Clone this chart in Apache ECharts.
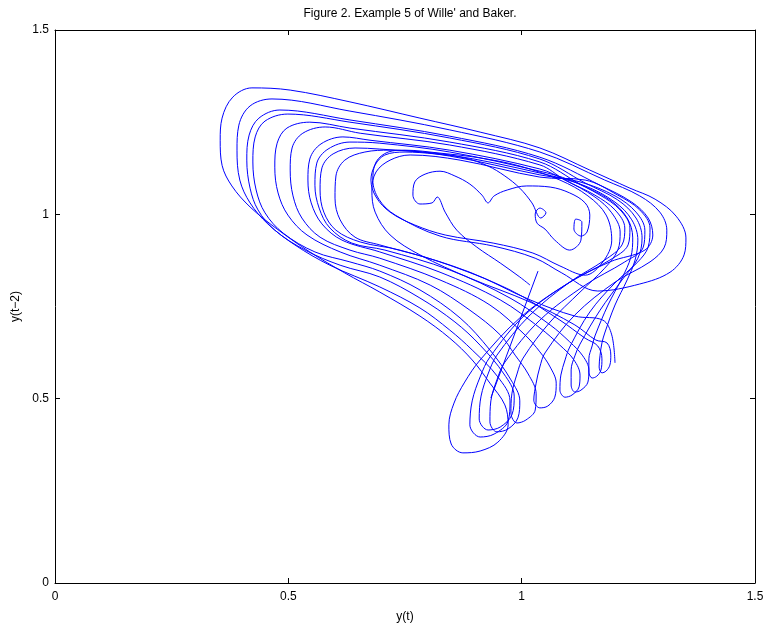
<!DOCTYPE html>
<html><head><meta charset="utf-8">
<script src="https://cdn.jsdelivr.net/npm/echarts@6/dist/echarts.min.js"></script>
<style>html,body{margin:0;padding:0;background:#fff}#c{width:768px;height:628px}</style>
</head><body><div id="c"></div>
<script>
// Tick values
const xTicks = [0, 0.5, 1, 1.5];
const yTicks = [0, 0.5, 1, 1.5];

// Trajectory: (y(t), y(t-2)), in time order, piece by piece
const transient = [[1.018,0.808],[0.996,0.830],[0.954,0.868],[0.904,0.911],[0.861,0.957],[0.836,1.006],[0.819,1.047],[0.808,1.031],[0.782,1.028],[0.767,1.052],[0.771,1.088],[0.793,1.109],[0.825,1.117],[0.857,1.104],[0.889,1.082],[0.915,1.052],[0.928,1.031],[0.941,1.050],[0.969,1.066],[1.011,1.077],[1.061,1.074],[1.103,1.058],[1.136,1.031],[1.146,0.998],[1.140,0.952],[1.127,0.941],[1.112,0.960],[1.116,0.987],[1.129,0.979],[1.127,0.930],[1.103,0.903],[1.071,0.930],[1.050,0.960],[1.033,0.976],[1.029,1.001],[1.039,1.017],[1.052,1.004],[1.041,0.990],[1.022,1.031],[0.996,1.071],[0.964,1.104],[0.928,1.131],[0.878,1.153],[0.814,1.164],[0.750,1.169],[0.707,1.161],[0.686,1.134],[0.677,1.093],[0.688,1.047],[0.718,1.006],[0.771,0.971],[0.836,0.944],[0.939,0.922],[1.024,0.895],[1.082,0.860],[1.136,0.835],[1.174,0.871],[1.193,0.930],[1.181,0.998],[1.142,1.050],[1.082,1.093],[0.996,1.131],[0.911,1.153],[0.825,1.166],[0.750,1.174],[0.714,1.169],[0.688,1.142],[0.681,1.093],[0.694,1.041],[0.729,0.998],[0.825,0.941],[0.939,0.914],[1.029,0.881],[1.086,0.841],[1.163,0.792],[1.253,0.811],[1.318,0.843],[1.348,0.890]];
const cycle1 = [[1.352,0.936],[1.331,0.995],[1.286,1.041],[1.232,1.071],[1.146,1.120],[1.039,1.180],[0.911,1.223],[0.782,1.261],[0.632,1.305],[0.504,1.337],[0.422,1.343],[0.381,1.318],[0.358,1.261],[0.354,1.201],[0.358,1.133],[0.379,1.077],[0.418,1.020],[0.476,0.960],[0.546,0.898],[0.621,0.841],[0.696,0.789],[0.782,0.724],[0.846,0.664],[0.894,0.605],[0.932,0.542],[0.964,0.483],[0.971,0.429],[0.949,0.382],[0.911,0.358],[0.874,0.353],[0.849,0.377],[0.844,0.429],[0.855,0.488],[0.878,0.545],[0.911,0.605]];
const cycle2 = [[0.996,0.719],[1.093,0.808],[1.189,0.871],[1.264,0.903],[1.281,0.944],[1.271,0.990],[1.236,1.033],[1.168,1.079],[1.039,1.155],[0.846,1.212],[0.632,1.256],[0.482,1.283],[0.437,1.261],[0.416,1.215],[0.411,1.147],[0.418,1.071],[0.435,1.012],[0.471,0.957],[0.536,0.903],[0.611,0.862],[0.696,0.830],[0.782,0.773],[0.857,0.708],[0.911,0.645],[0.962,0.567],[0.984,0.507],[0.979,0.456],[0.954,0.423],[0.928,0.415],[0.909,0.445],[0.913,0.507],[0.928,0.567],[0.947,0.618]];
const cycle3 = [[1.018,0.727],[1.103,0.816],[1.178,0.876],[1.215,0.917],[1.221,0.963],[1.200,1.012],[1.157,1.052],[1.093,1.093],[1.039,1.134],[0.846,1.188],[0.654,1.220],[0.579,1.237],[0.531,1.220],[0.508,1.180],[0.504,1.120],[0.510,1.050],[0.529,0.990],[0.568,0.938],[0.632,0.903],[0.696,0.881],[0.825,0.822],[0.932,0.754],[1.007,0.673],[1.039,0.627],[1.061,0.586],[1.074,0.542],[1.071,0.504],[1.056,0.480],[1.039,0.475],[1.026,0.496],[1.031,0.542],[1.039,0.586],[1.050,0.624]];
const cycle4 = [[1.114,0.727],[1.200,0.816],[1.275,0.871],[1.305,0.909],[1.311,0.957],[1.296,1.006],[1.253,1.050],[1.178,1.093],[1.039,1.169],[0.846,1.229],[0.632,1.280],[0.465,1.313],[0.418,1.294],[0.394,1.242],[0.390,1.174],[0.396,1.093],[0.418,1.031],[0.456,0.974],[0.514,0.917],[0.589,0.862],[0.696,0.803],[0.782,0.746],[0.846,0.686],[0.894,0.632],[0.949,0.559],[0.975,0.494],[0.971,0.439],[0.941,0.404],[0.911,0.396],[0.889,0.429],[0.894,0.494],[0.911,0.559],[0.932,0.613]];
const cycle5 = [[1.007,0.727],[1.103,0.816],[1.189,0.876],[1.228,0.917],[1.232,0.963],[1.211,1.012],[1.168,1.052],[1.103,1.093],[1.039,1.117],[0.846,1.169],[0.696,1.193],[0.632,1.196],[0.585,1.177],[0.561,1.139],[0.557,1.079],[0.566,1.017],[0.589,0.963],[0.636,0.922],[0.707,0.903],[0.846,0.849],[0.975,0.773],[1.061,0.700],[1.103,0.654],[1.131,0.616],[1.144,0.578],[1.142,0.545],[1.127,0.523],[1.114,0.518],[1.106,0.537],[1.106,0.578],[1.114,0.616],[1.125,0.648]];
const cycle6 = [[1.168,0.740],[1.215,0.822],[1.249,0.881],[1.258,0.936],[1.245,0.990],[1.206,1.039],[1.136,1.085],[1.039,1.150],[0.846,1.207],[0.632,1.250],[0.499,1.272],[0.450,1.253],[0.429,1.210],[0.424,1.142],[0.431,1.066],[0.450,1.004],[0.489,0.949],[0.557,0.898],[0.632,0.871],[0.696,0.846],[0.782,0.795],[0.868,0.719],[0.932,0.632],[0.977,0.551],[0.996,0.494],[0.992,0.448],[0.971,0.418],[0.947,0.410],[0.932,0.437],[0.934,0.494],[0.947,0.551],[0.964,0.599]];
const cycle7 = [[1.039,0.713],[1.136,0.808],[1.221,0.871],[1.260,0.909],[1.264,0.957],[1.245,1.006],[1.200,1.050],[1.125,1.088],[1.039,1.107],[0.846,1.158],[0.718,1.174],[0.664,1.169],[0.621,1.147],[0.602,1.104],[0.600,1.044],[0.611,0.985],[0.643,0.938],[0.696,0.917],[0.825,0.871],[0.975,0.795],[1.082,0.713],[1.136,0.664],[1.163,0.643],[1.172,0.608],[1.170,0.578],[1.161,0.561],[1.151,0.556],[1.144,0.572],[1.144,0.608],[1.151,0.643],[1.157,0.670]];
const cycle8 = [[1.185,0.754],[1.215,0.827],[1.234,0.884],[1.238,0.936],[1.226,0.990],[1.189,1.039],[1.125,1.082],[1.039,1.142],[0.846,1.196],[0.632,1.234],[0.546,1.250],[0.497,1.234],[0.476,1.193],[0.471,1.128],[0.478,1.058],[0.499,0.998],[0.540,0.944],[0.611,0.898],[0.696,0.862],[0.804,0.808],[0.889,0.740],[0.954,0.673],[0.986,0.618],[1.014,0.567],[1.031,0.513],[1.029,0.469],[1.009,0.442],[0.990,0.434],[0.977,0.461],[0.979,0.513],[0.990,0.567],[1.003,0.610]];
const cycle9 = [[1.061,0.708],[1.125,0.789],[1.178,0.854],[1.206,0.903],[1.211,0.952],[1.193,1.004],[1.157,1.047],[1.093,1.093],[1.039,1.123],[0.846,1.174],[0.675,1.201],[0.617,1.210],[0.570,1.191],[0.546,1.150],[0.542,1.093],[0.549,1.031],[0.572,0.974],[0.615,0.930],[0.696,0.898],[0.825,0.843],[0.954,0.768],[1.039,0.692],[1.082,0.645],[1.112,0.605],[1.125,0.564],[1.123,0.532],[1.108,0.510],[1.093,0.504],[1.082,0.523],[1.084,0.564],[1.093,0.605],[1.103,0.640]];
const cycle10 = [[1.146,0.735],[1.200,0.814],[1.249,0.871],[1.271,0.911],[1.275,0.963],[1.253,1.012],[1.206,1.052],[1.136,1.093],[1.039,1.101],[0.868,1.147],[0.761,1.161],[0.718,1.147],[0.688,1.115],[0.679,1.066],[0.686,1.006],[0.718,0.944],[0.782,0.890],[0.889,0.827],[1.018,0.762],[1.114,0.700],[1.159,0.659],[1.183,0.651],[1.191,0.618],[1.189,0.591],[1.181,0.575],[1.172,0.570],[1.166,0.586],[1.168,0.618],[1.172,0.651],[1.178,0.678]];
const cycle11 = [[1.200,0.754],[1.226,0.822],[1.243,0.876],[1.249,0.930],[1.236,0.985],[1.200,1.033],[1.136,1.077],[1.039,1.112],[0.846,1.161],[0.696,1.177],[0.643,1.180],[0.596,1.164],[0.572,1.126],[0.568,1.066],[0.576,1.006],[0.602,0.957],[0.654,0.925],[0.739,0.903],[0.889,0.843],[1.018,0.768],[1.114,0.724],[1.174,0.713],[1.193,0.673],[1.200,0.597]];
// short separate stroke
const stroke = [[1.035,0.846],[0.934,0.502]];

const trajectory = [].concat(transient, cycle1, cycle2, cycle3, cycle4, cycle5, cycle6, cycle7, cycle8, cycle9, cycle10, cycle11);

const FONT = '"Liberation Sans", Arial, Helvetica, sans-serif';
const chart = echarts.init(document.getElementById('c'), null, {renderer: 'canvas'});

function xAxisDef(pos, labels) {
  return {
    type: 'value', position: pos, min: xTicks[0], max: xTicks[xTicks.length - 1], interval: 0.5,
    axisLine: {show: true, onZero: false, lineStyle: {color: '#000', width: 1}},
    axisTick: {show: true, inside: true, length: 5, lineStyle: {color: '#000'}},
    axisLabel: {show: labels, color: '#000', fontSize: 12, fontFamily: FONT, margin: 8},
    splitLine: {show: false},
    name: labels ? 'y(t)' : '', nameLocation: 'middle', nameGap: 28,
    nameTextStyle: {color: '#000', fontSize: 12, fontFamily: FONT}
  };
}
function yAxisDef(pos, labels) {
  return {
    type: 'value', position: pos, min: yTicks[0], max: yTicks[yTicks.length - 1], interval: 0.5,
    axisLine: {show: true, onZero: false, lineStyle: {color: '#000', width: 1}},
    axisTick: {show: true, inside: true, length: 5, lineStyle: {color: '#000'}},
    axisLabel: {show: labels, color: '#000', fontSize: 12, fontFamily: FONT, margin: 6},
    splitLine: {show: false},
    name: labels ? 'y(t\u22122)' : '', nameLocation: 'middle', nameGap: 28, nameRotate: 90,
    nameTextStyle: {color: '#000', fontSize: 12, fontFamily: FONT}
  };
}

chart.setOption({
  animation: false,
  backgroundColor: '#fff',
  title: {
    text: "Figure 2. Example 5 of Wille' and Baker.",
    left: 405, top: 3, textAlign: 'center',
    textStyle: {color: '#000', fontSize: 12, fontWeight: 'normal', fontFamily: FONT}
  },
  grid: {left: 55, top: 30, right: 13, bottom: 45, containLabel: false},
  xAxis: [xAxisDef('bottom', true), xAxisDef('top', false)],
  yAxis: [yAxisDef('left', true), yAxisDef('right', false)],
  series: [
    {type: 'line', xAxisIndex: 0, yAxisIndex: 0, data: trajectory, showSymbol: false, smooth: 0.35,
     lineStyle: {color: '#0000ff', width: 1}, clip: true},
    {type: 'line', xAxisIndex: 0, yAxisIndex: 0, data: stroke, showSymbol: false,
     lineStyle: {color: '#0000ff', width: 1}}
  ]
});
</script></body></html>
